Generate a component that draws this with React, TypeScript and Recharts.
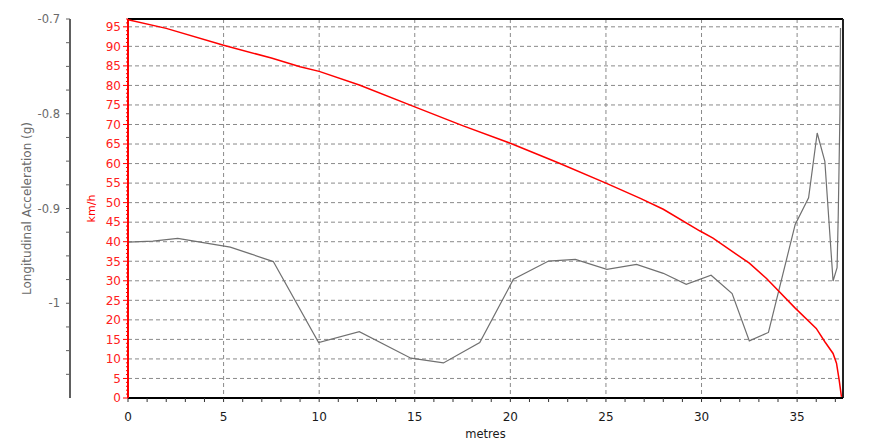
import {
  LineChart,
  Line,
  XAxis,
  YAxis,
  CartesianGrid,
  ReferenceLine,
} from 'recharts'

// speed trace (red, km/h)
const speedMetres = [0, 2.0, 5, 7.5, 9.0, 10, 12.1, 15, 17.5, 20, 22.5, 25, 26.8, 28, 29.9, 30.6, 32.5, 33.4, 34.9, 36.0, 36.45, 36.88, 37.06, 37.2, 37.32]
const speedKmh = [96.8, 94.6, 90.3, 87.0, 84.8, 83.6, 80.1, 74.5, 69.7, 65.2, 60.2, 55.0, 51.1, 48.3, 42.8, 40.9, 34.5, 30.6, 23.0, 17.8, 14.4, 11.4, 8.9, 4.6, 0.3]

// longitudinal acceleration trace (grey, g)
const accelMetres = [0, 1.3, 2.6, 5.35, 7.6, 9.97, 12.1, 14.8, 16.5, 18.4, 20.16, 22.0, 23.4, 25.05, 26.6, 28.0, 29.2, 30.5, 31.6, 32.5, 33.5, 34.9, 35.6, 36.05, 36.45, 36.88, 37.09, 37.15, 37.24, 37.27]
const accelG = [-0.9355, -0.9344, -0.9316, -0.9407, -0.956, -1.0414, -1.030, -1.058, -1.063, -1.0414, -0.9747, -0.9555, -0.9537, -0.9642, -0.9589, -0.9684, -0.98, -0.9705, -0.9898, -1.0397, -1.0308, -0.9168, -0.8887, -0.8203, -0.8502, -0.9765, -0.9624, -0.9081, -0.7993, -0.7095]

const metreTicks = [0, 5, 10, 15, 20, 25, 30, 35]
const speedTicks = [0, 5, 10, 15, 20, 25, 30, 35, 40, 45, 50, 55, 60, 65, 70, 75, 80, 85, 90, 95]
const accelTicks = [-0.7, -0.8, -0.9, -1]
const accelMinorTicks = [-0.7, -0.725, -0.75, -0.775, -0.8, -0.825, -0.85, -0.875, -0.9, -0.925, -0.95, -0.975, -1, -1.025, -1.05, -1.075]

const X_MAX = 37.4
const SPEED_MAX = 97
const ACCEL_MIN = -1.1
const ACCEL_MAX = -0.7

const metreMinorTicks = Array.from({ length: 38 }, (_, i) => i)
const speedMinorTicks = Array.from({ length: 98 }, (_, i) => i)

const speedData = speedMetres.map((m, i) => ({ m, v: speedKmh[i] }))
const accelData = accelMetres.map((m, i) => ({ m, v: accelG[i] }))

const font = '"DejaVu Sans", Verdana, sans-serif'
const RED = '#ff0000'

// axis ids: recharts stacks left axes by id, the first one sits next to the plot
const SPEED_ID = 'left1'
const ACCEL_ID = 'left2'

const SPEED_TICK_SIZE = 5
const SPEED_TICK_MARGIN = 2

// red axis: long ticks with a label every 5 km/h, short ticks in between
function SpeedTick({ x, y, payload }: any) {
  const v = payload.value as number
  const major = v % 5 === 0
  const ax = x + SPEED_TICK_SIZE + SPEED_TICK_MARGIN
  return (
    <g>
      <line x1={ax - (major ? SPEED_TICK_SIZE : 2)} x2={ax} y1={y} y2={y} stroke={RED} />
      {major && (
        <text x={x} y={y} dy="0.36em" textAnchor="end" fill="#ff2020" fontSize={12}>
          {v}
        </text>
      )}
    </g>
  )
}

export default function App() {
  return (
    <div style={{ fontFamily: font }}>
      <LineChart width={870} height={440} margin={{ top: 11, right: 35, bottom: 0, left: 0 }}>
        <XAxis
          xAxisId="m"
          type="number"
          dataKey="m"
          domain={[0, X_MAX]}
          allowDataOverflow
          ticks={metreMinorTicks}
          interval={0}
          tickFormatter={(v: number) => (v % 5 === 0 ? String(v) : '')}
          tick={{ fill: '#1a1a1a', fontSize: 12 }}
          tickSize={4}
          tickMargin={10}
          tickLine={{ stroke: '#333' }}
          axisLine={{ stroke: '#000', strokeWidth: 2 }}
          height={50}
          label={{ value: 'metres', position: 'insideBottom', offset: 10, fill: '#1a1a1a', fontSize: 11.5 }}
        />
        <YAxis
          yAxisId={SPEED_ID}
          type="number"
          domain={[0, SPEED_MAX]}
          allowDataOverflow
          ticks={speedMinorTicks}
          interval={0}
          tick={<SpeedTick />}
          tickSize={SPEED_TICK_SIZE}
          tickMargin={SPEED_TICK_MARGIN}
          tickLine={false}
          axisLine={{ stroke: RED, strokeWidth: 2 }}
          width={58}
          label={{ value: 'km/h', angle: -90, position: 'center', dx: -8, fill: RED, fontSize: 11 }}
        />
        <YAxis
          yAxisId={ACCEL_ID}
          type="number"
          domain={[ACCEL_MIN, ACCEL_MAX]}
          allowDataOverflow
          ticks={accelMinorTicks}
          interval={0}
          tickFormatter={(v: number) => (accelTicks.includes(v) ? String(v) : '')}
          tick={{ fill: '#6a6a6a', fontSize: 11.5 }}
          tickSize={4}
          tickMargin={6}
          tickLine={{ stroke: '#606060' }}
          axisLine={{ stroke: '#606060', strokeWidth: 2 }}
          width={62}
          label={{ value: 'Longitudinal Acceleration (g)', angle: -90, position: 'center', dx: -12, fill: '#6a6a6a', fontSize: 12 }}
        />
        <CartesianGrid
          xAxisId="m"
          yAxisId={SPEED_ID}
          stroke="#8a8a8a"
          strokeDasharray="4 3"
          verticalValues={metreTicks}
          horizontalValues={speedTicks}
        />
        <ReferenceLine xAxisId="m" yAxisId={SPEED_ID} y={SPEED_MAX} stroke="#000" strokeWidth={2} />
        <ReferenceLine xAxisId="m" yAxisId={SPEED_ID} x={X_MAX} stroke="#222" strokeWidth={2} />
        <Line
          xAxisId="m"
          yAxisId={ACCEL_ID}
          data={accelData}
          dataKey="v"
          type="linear"
          stroke="#707070"
          strokeWidth={1.2}
          dot={false}
          isAnimationActive={false}
        />
        <Line
          xAxisId="m"
          yAxisId={SPEED_ID}
          data={speedData}
          dataKey="v"
          type="linear"
          stroke={RED}
          strokeWidth={1.5}
          dot={false}
          isAnimationActive={false}
        />
      </LineChart>
    </div>
  )
}
